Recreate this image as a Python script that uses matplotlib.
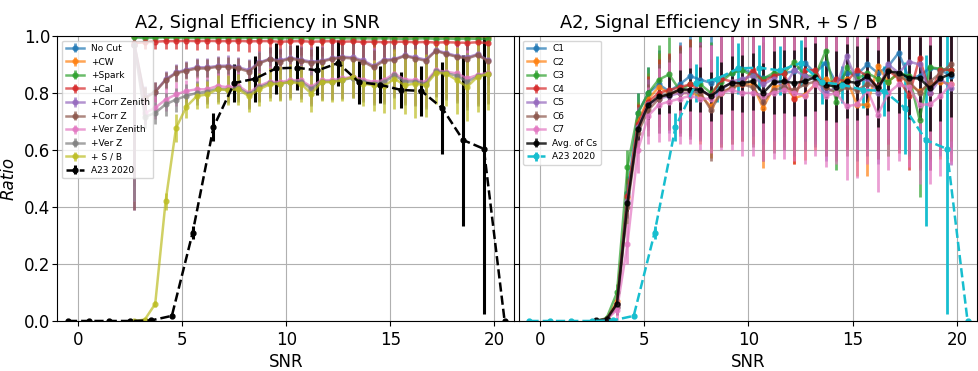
import numpy as np
import matplotlib
matplotlib.use("Agg")
import matplotlib.pyplot as plt

#data, SNR bins of the cut study
snr = [2.7, 3.2, 3.7, 4.2, 4.7, 5.2, 5.7, 6.2, 6.7, 7.2, 7.7, 8.2, 8.7, 9.2, 9.7,
       10.2, 10.7, 11.2, 11.7, 12.2, 12.7, 13.2, 13.7, 14.2, 14.7, 15.2, 15.7,
       16.2, 16.7, 17.2, 17.7, 18.2, 18.7, 19.2, 19.7]

#A23 2020 reference
snr_a23 = [-0.5, 0.5, 1.5, 2.5, 3.5, 4.5, 5.5, 6.5, 7.5, 8.5, 9.5, 10.5, 11.5,
           12.5, 13.5, 14.5, 15.5, 16.5, 17.5, 18.5, 19.5, 20.5]
eff_a23 = [0.0, 0.0, 0.0, 0.0, 0.002, 0.018, 0.31, 0.68, 0.835, 0.85, 0.886, 0.889,
           0.879, 0.905, 0.838, 0.829, 0.811, 0.807, 0.747, 0.635, 0.604, 0.0]
err_a23 = [0.0, 0.0, 0.0, 0.0, 0.002, 0.005, 0.022, 0.05, 0.068, 0.08, 0.09, 0.08,
           0.087, 0.08, 0.075, 0.065, 0.062, 0.088, 0.16, 0.30, 0.58, 0.0]

#left panel, cumulative cuts
cut_names = ["No Cut", "+CW", "+Spark", "+Cal", "+Corr Zenith", "+Corr Z",
             "+Ver Zenith", "+Ver Z", "+ S / B"]

no_cut = [1.0, 1.0, 1.0, 1.0, 1.0, 1.0, 1.0, 1.0, 1.0, 1.0, 1.0, 1.0, 1.0, 1.0, 1.0,
          1.0, 1.0, 1.0, 1.0, 1.0, 1.0, 1.0, 1.0, 1.0, 1.0, 1.0, 1.0, 1.0, 1.0, 1.0,
          1.0, 1.0, 1.0, 1.0, 1.0]
cw = [1.0, 1.0, 1.0, 0.999, 0.999, 0.999, 0.999, 0.999, 0.999, 0.999, 0.999, 0.999,
      0.999, 0.999, 0.999, 0.998, 0.999, 0.998, 0.999, 0.999, 0.998, 0.999, 0.999,
      0.998, 0.999, 0.998, 0.999, 0.998, 0.999, 0.999, 0.998, 0.999, 0.998, 0.999, 0.998]
spark = [0.995, 0.993, 0.994, 0.995, 0.994, 0.994, 0.993, 0.994, 0.993, 0.994, 0.993,
         0.993, 0.994, 0.993, 0.992, 0.993, 0.992, 0.993, 0.992, 0.993, 0.992, 0.991,
         0.992, 0.991, 0.992, 0.991, 0.99, 0.991, 0.992, 0.99, 0.991, 0.99, 0.991, 0.99, 0.99]
cal = [0.975, 0.978, 0.98, 0.982, 0.982, 0.983, 0.982, 0.983, 0.982, 0.982, 0.983,
       0.981, 0.982, 0.982, 0.98, 0.981, 0.982, 0.98, 0.981, 0.982, 0.98, 0.981,
       0.979, 0.98, 0.978, 0.979, 0.98, 0.978, 0.979, 0.977, 0.978, 0.977, 0.976, 0.978, 0.975]
corr_zen = [0.97, 0.785, 0.805, 0.848, 0.872, 0.882, 0.89, 0.89, 0.895, 0.896, 0.89,
            0.88, 0.907, 0.92, 0.914, 0.924, 0.917, 0.91, 0.913, 0.922, 0.927, 0.925,
            0.914, 0.895, 0.917, 0.919, 0.932, 0.925, 0.917, 0.95, 0.94, 0.93, 0.925,
            0.936, 0.915]
corr_z = [0.97, 0.781, 0.804, 0.845, 0.869, 0.878, 0.886, 0.886, 0.892, 0.892, 0.886,
          0.875, 0.904, 0.918, 0.91, 0.921, 0.913, 0.906, 0.91, 0.919, 0.924, 0.921,
          0.91, 0.89, 0.913, 0.916, 0.93, 0.921, 0.913, 0.948, 0.936, 0.927, 0.921,
          0.933, 0.912]
ver_zen = [0.97, 0.73, 0.748, 0.777, 0.795, 0.807, 0.813, 0.813, 0.825, 0.82, 0.825,
           0.801, 0.825, 0.84, 0.838, 0.845, 0.845, 0.822, 0.845, 0.845, 0.851, 0.857,
           0.847, 0.839, 0.845, 0.868, 0.847, 0.845, 0.839, 0.88, 0.874, 0.869, 0.851,
           0.863, 0.871]
ver_z = [0.97, 0.716, 0.73, 0.76, 0.777, 0.79, 0.8, 0.805, 0.815, 0.812, 0.818,
         0.795, 0.82, 0.835, 0.832, 0.84, 0.84, 0.815, 0.84, 0.84, 0.846, 0.853,
         0.84, 0.833, 0.838, 0.862, 0.84, 0.84, 0.833, 0.876, 0.87, 0.86, 0.84,
         0.858, 0.868]
s_b = [0.0, 0.005, 0.06, 0.42, 0.677, 0.752, 0.789, 0.795, 0.813, 0.81, 0.813,
       0.789, 0.813, 0.83, 0.833, 0.838, 0.833, 0.798, 0.838, 0.838, 0.845, 0.857,
       0.833, 0.827, 0.824, 0.85, 0.827, 0.833, 0.827, 0.871, 0.868, 0.845, 0.822,
       0.857, 0.866]

err_top = [0.5, 0.01, 0.01, 0.01, 0.01, 0.012, 0.012, 0.012, 0.013, 0.014, 0.015,
           0.015, 0.016, 0.017, 0.018, 0.02, 0.02, 0.021, 0.022, 0.023, 0.025, 0.026,
           0.027, 0.028, 0.03, 0.031, 0.032, 0.033, 0.035, 0.036, 0.037, 0.039, 0.04,
           0.042, 0.044]
err_cal = [0.5, 0.025, 0.025, 0.026, 0.027, 0.028, 0.03, 0.03, 0.032, 0.033, 0.035,
           0.036, 0.038, 0.04, 0.042, 0.045, 0.047, 0.05, 0.052, 0.055, 0.057, 0.06,
           0.062, 0.065, 0.068, 0.07, 0.073, 0.076, 0.08, 0.082, 0.085, 0.088, 0.09,
           0.094, 0.097]
err_corr = [0.58, 0.04, 0.035, 0.03, 0.03, 0.03, 0.032, 0.033, 0.035, 0.036, 0.038,
            0.04, 0.04, 0.042, 0.044, 0.046, 0.048, 0.05, 0.052, 0.054, 0.056, 0.058,
            0.06, 0.062, 0.064, 0.066, 0.068, 0.07, 0.072, 0.074, 0.076, 0.078, 0.08,
            0.082, 0.084]
err_ver = [0.55, 0.04, 0.04, 0.04, 0.042, 0.04, 0.042, 0.044, 0.046, 0.048, 0.05,
           0.05, 0.052, 0.054, 0.056, 0.058, 0.06, 0.062, 0.064, 0.066, 0.068, 0.07,
           0.072, 0.075, 0.078, 0.08, 0.083, 0.086, 0.088, 0.09, 0.093, 0.096, 0.1,
           0.102, 0.105]
err_sb = [0.0, 0.005, 0.01, 0.03, 0.05, 0.04, 0.045, 0.048, 0.05, 0.052, 0.054,
          0.055, 0.057, 0.058, 0.06, 0.062, 0.063, 0.065, 0.067, 0.07, 0.072, 0.075,
          0.078, 0.09, 0.095, 0.105, 0.1, 0.12, 0.11, 0.11, 0.115, 0.118, 0.12,
          0.122, 0.125]

#right panel, individual channels after + S / B
c_names = ["C1", "C2", "C3", "C4", "C5", "C6", "C7"]
c1 = [0.0, 0.006, 0.06, 0.45, 0.73, 0.8, 0.83, 0.806, 0.83, 0.859, 0.847, 0.835,
      0.853, 0.87, 0.885, 0.87, 0.853, 0.859, 0.87, 0.876, 0.906, 0.87, 0.906, 0.835,
      0.87, 0.865, 0.9, 0.87, 0.894, 0.941, 0.85, 0.86, 0.888, 0.882, 0.859]
c2 = [0.0, 0.006, 0.07, 0.43, 0.7, 0.78, 0.82, 0.8, 0.8, 0.8, 0.79, 0.753, 0.8,
      0.82, 0.83, 0.83, 0.747, 0.82, 0.83, 0.782, 0.794, 0.83, 0.85, 0.83, 0.85,
      0.759, 0.759, 0.894, 0.84, 0.87, 0.83, 0.806, 0.83, 0.84, 0.83]
c3 = [0.0, 0.01, 0.1, 0.54, 0.73, 0.8, 0.847, 0.865, 0.81, 0.83, 0.83, 0.8, 0.84,
      0.87, 0.88, 0.86, 0.85, 0.87, 0.87, 0.908, 0.86, 0.86, 0.947, 0.77, 0.89, 0.85,
      0.87, 0.85, 0.84, 0.87, 0.86, 0.706, 0.89, 0.885, 0.88]
c4 = [0.0, 0.006, 0.06, 0.44, 0.69, 0.77, 0.8, 0.81, 0.82, 0.83, 0.81, 0.788, 0.85,
      0.84, 0.83, 0.882, 0.84, 0.86, 0.87, 0.78, 0.88, 0.88, 0.82, 0.85, 0.84, 0.88,
      0.86, 0.82, 0.88, 0.85, 0.79, 0.924, 0.8, 0.88, 0.882]
c5 = [0.0, 0.005, 0.05, 0.42, 0.68, 0.76, 0.78, 0.79, 0.8, 0.8, 0.81, 0.79, 0.81,
      0.84, 0.85, 0.86, 0.83, 0.85, 0.82, 0.88, 0.86, 0.85, 0.8, 0.82, 0.929, 0.84,
      0.85, 0.8, 0.9, 0.87, 0.91, 0.9, 0.8, 0.85, 0.818]
c6 = [0.0, 0.005, 0.05, 0.4, 0.66, 0.74, 0.78, 0.8, 0.81, 0.81, 0.8, 0.741, 0.8,
      0.82, 0.83, 0.82, 0.77, 0.81, 0.82, 0.81, 0.83, 0.84, 0.82, 0.8, 0.82, 0.81,
      0.83, 0.82, 0.88, 0.86, 0.84, 0.8, 0.84, 0.87, 0.9]
c7 = [0.0, 0.004, 0.04, 0.27, 0.6, 0.72, 0.759, 0.77, 0.78, 0.79, 0.78, 0.78, 0.8,
      0.81, 0.8, 0.8, 0.79, 0.8, 0.81, 0.8, 0.79, 0.83, 0.79, 0.8, 0.753, 0.76, 0.81,
      0.724, 0.8, 0.83, 0.82, 0.759, 0.76, 0.79, 0.83]
c_avg = [0.002, 0.006, 0.061, 0.415, 0.674, 0.759, 0.788, 0.794, 0.812, 0.812, 0.812,
         0.788, 0.818, 0.835, 0.835, 0.841, 0.8, 0.838, 0.841, 0.835, 0.841, 0.856,
         0.829, 0.822, 0.841, 0.835, 0.859, 0.817, 0.876, 0.871, 0.853, 0.851, 0.817,
         0.852, 0.867]

err_c = [0.0, 0.005, 0.03, 0.06, 0.07, 0.09, 0.12, 0.13, 0.15, 0.16, 0.17, 0.18,
         0.19, 0.2, 0.2, 0.21, 0.21, 0.22, 0.22, 0.23, 0.23, 0.23, 0.24, 0.24, 0.24,
         0.25, 0.25, 0.25, 0.26, 0.26, 0.26, 0.27, 0.27, 0.27, 0.27]
err_c7 = [0.0, 0.006, 0.035, 0.07, 0.08, 0.1, 0.13, 0.14, 0.16, 0.17, 0.18, 0.19,
          0.2, 0.21, 0.22, 0.22, 0.23, 0.23, 0.24, 0.24, 0.24, 0.25, 0.25, 0.25, 0.26,
          0.26, 0.26, 0.27, 0.27, 0.27, 0.28, 0.28, 0.28, 0.28, 0.28]
err_avg = [0.0, 0.003, 0.015, 0.03, 0.04, 0.05, 0.06, 0.065, 0.07, 0.075, 0.08,
           0.085, 0.09, 0.095, 0.1, 0.1, 0.105, 0.11, 0.11, 0.115, 0.12, 0.12, 0.125,
           0.125, 0.13, 0.13, 0.135, 0.135, 0.14, 0.14, 0.145, 0.145, 0.15, 0.15, 0.15]

cut_vals = [no_cut, cw, spark, cal, corr_zen, corr_z, ver_zen, ver_z, s_b]
cut_errs = [err_top, err_top, err_top, err_cal, err_corr, err_corr, err_ver, err_ver, err_sb]
c_vals = [c1, c2, c3, c4, c5, c6, c7]
c_errs = [err_c, err_c, err_c, err_c, err_c, err_c, err_c7]

#plot
fig = plt.figure(figsize=(9.79, 3.71), dpi=100)
ax1 = fig.add_axes([0.0587, 0.1348, 0.4663, 0.7682])
ax2 = fig.add_axes([0.5301, 0.1348, 0.4678, 0.7682], sharey=ax1)

for name, vals, errs in zip(cut_names, cut_vals, cut_errs):
    ax1.errorbar(snr, vals, yerr=errs, marker="o", ms=3.5, lw=1.8, elinewidth=2,
                 alpha=0.7, label=name)
ax1.errorbar(snr_a23, eff_a23, yerr=err_a23, color="black", ls="--", marker="o",
             ms=3.5, lw=1.8, elinewidth=2.2, label="A23 2020")

for i, (name, vals, errs) in enumerate(zip(c_names, c_vals, c_errs)):
    ax2.errorbar(snr, vals, yerr=errs, color="C%d" % i, marker="o", ms=3.5, lw=1.8,
                 elinewidth=2, alpha=0.7, label=name)
ax2.errorbar(snr, c_avg, yerr=err_avg, color="black", marker="o", ms=3.5, lw=1.8,
             elinewidth=2, alpha=0.8, label="Avg. of Cs")
ax2.errorbar(snr_a23, eff_a23, yerr=err_a23, color="C9", ls="--", marker="o",
             ms=3.5, lw=1.8, elinewidth=2, label="A23 2020")

for ax in (ax1, ax2):
    ax.set_xlim(-1.0, 20.95)
    ax.set_ylim(0, 1)
    ax.set_xticks([0, 5, 10, 15, 20])
    ax.set_yticks([0.0, 0.2, 0.4, 0.6, 0.8, 1.0])
    ax.grid(True)
    ax.tick_params(labelsize=12)
    ax.tick_params(axis="y", pad=1.5)
    ax.set_xlabel("SNR", fontsize=12, labelpad=3)
    ax.legend(loc="upper left", fontsize=6.5)

plt.setp(ax2.get_yticklabels(), visible=False)
ax1.set_ylabel("Ratio", fontsize=12, fontstyle="italic", labelpad=5)
ax1.set_title("A2, Signal Efficiency in SNR", fontsize=12.8, x=0.439)
ax2.set_title("A2, Signal Efficiency in SNR, + S / B", fontsize=12.8, x=0.437)

plt.savefig("out.png", dpi=100)
